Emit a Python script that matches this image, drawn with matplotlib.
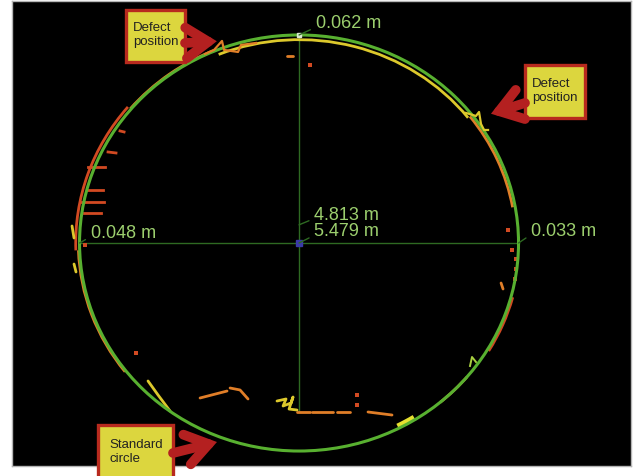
import matplotlib
matplotlib.use("Agg")
import matplotlib.pyplot as plt
from matplotlib.patches import Arc, Circle, Rectangle, FancyArrowPatch
import numpy as np

plt.rcParams['font.family'] = ['Liberation Sans', 'DejaVu Sans']

# fitted section centre and design radius (m)
CENTER_X = 4.813
CENTER_Y = 5.479
R_STD = 2.75

# max deviations (m)
DEV_TOP = 0.062
DEV_LEFT = 0.048
DEV_RIGHT = 0.033

# scanned profile, continuous arcs: start/end angle (deg) and radius (m)
ARC_START = [38, 112, 140, 182, 10, -31, -50, -63]
ARC_END = [112, 140, 182, 218, 38, -15, -40, -58]
ARC_R = [R_STD - DEV_TOP, R_STD + 0.01, R_STD + DEV_LEFT, R_STD + 0.015,
         R_STD - DEV_RIGHT, R_STD + 0.02, R_STD, R_STD - 0.03]

# scattered scan pieces, offsets from centre (m)
left_streaks = [
    [(-2.643, 1.005), (-2.430, 1.005)],
    [(-2.643, 0.701), (-2.455, 0.701)],
    [(-2.744, 0.542), (-2.443, 0.542)],
    [(-2.694, 0.397), (-2.481, 0.397)],
    [(-2.393, 1.203), (-2.293, 1.190)],
    [(-2.243, 1.481), (-2.192, 1.468)],
]
bottom_pieces = [
    [(-1.240, -2.049), (-0.902, -1.957)],
    [(-0.864, -1.917), (-0.739, -1.943), (-0.639, -2.062)],
    [(-0.025, -2.234), (0.138, -2.234)],
    [(0.163, -2.234), (0.426, -2.234)],
    [(0.476, -2.234), (0.639, -2.234)],
    [(0.864, -2.234), (1.165, -2.274)],
    [(-0.150, 2.472), (-0.075, 2.472)],
    [(2.531, -0.529), (2.556, -0.608)],
]
yellow_pieces = [
    [(-2.844, 0.225), (-2.819, 0.066)],
    [(-2.819, -0.278), (-2.794, -0.383)],
    [(-1.892, -1.824), (-1.766, -2.010), (-1.616, -2.221)],
    [(-0.276, -2.089), (-0.163, -2.062), (-0.200, -2.155), (-0.100, -2.115),
     (-0.075, -2.036), (-0.125, -2.195), (-0.025, -2.208)],
]
defect_a = [(-1.178, 2.499), (-1.065, 2.552), (-0.965, 2.671), (-0.940, 2.552),
            (-0.764, 2.525), (-0.727, 2.618), (-0.539, 2.644)]
defect_b = [(2.092, 1.719), (2.217, 1.679), (2.255, 1.732), (2.280, 1.573),
            (2.318, 1.494), (2.368, 1.494)]
notch_c = [(2.142, -1.626), (2.167, -1.507), (2.217, -1.573)]
dots = [(-2.681, -0.026), (-2.042, -1.454), (0.727, -2.010), (0.727, -2.142),
        (0.138, 2.353), (2.618, 0.172), (2.668, -0.093), (2.719, -0.212),
        (2.719, -0.344), (2.706, -0.476)]
VLINE_BOTTOM = -2.234

YELLOW = '#dcc82c'
ORANGE = '#e07e28'
RED = '#d24a22'
GREEN = '#58b030'
DARK_GREEN = '#2e6a22'
LABEL = '#9ccf6e'
arc_colors = [YELLOW, ORANGE, RED, ORANGE, ORANGE, RED, ORANGE, '#e6e030']
arc_widths = [2.0, 2.0, 2.0, 2.0, 2.0, 2.2, 2.0, 4.0]

fig = plt.figure(figsize=(6.38, 4.76), dpi=100)
ax = fig.add_axes([12 / 638, 10 / 476, 619 / 638, 465 / 476])
ax.set_facecolor('black')
ax.set_xlim(1.217, 8.972)
ax.set_ylim(2.531, 8.678)
ax.set_xticks([])
ax.set_yticks([])
for s in ax.spines.values():
    s.set_color('#b4b4b4')
    s.set_linewidth(1)

def shift(pts):
    a = np.array(pts)
    return a[:, 0] + CENTER_X, a[:, 1] + CENTER_Y

# crosshair through the centre
ax.plot([CENTER_X - R_STD, CENTER_X + R_STD], [CENTER_Y, CENTER_Y],
        color=DARK_GREEN, lw=1, zorder=1)
ax.plot([CENTER_X, CENTER_X], [CENTER_Y + VLINE_BOTTOM, CENTER_Y + R_STD],
        color=DARK_GREEN, lw=1, zorder=1)

# scan profile
for t1, t2, r, c, w in zip(ARC_START, ARC_END, ARC_R, arc_colors, arc_widths):
    ax.add_patch(Arc((CENTER_X, CENTER_Y), 2 * r, 2 * r, theta1=t1, theta2=t2,
                     color=c, lw=w, zorder=2))
for seg in left_streaks:
    ax.plot(*shift(seg), color=RED, lw=2, zorder=2)
for seg in bottom_pieces:
    ax.plot(*shift(seg), color=ORANGE, lw=2, zorder=2, solid_capstyle='round')
for seg in yellow_pieces:
    ax.plot(*shift(seg), color=YELLOW, lw=2, zorder=2, solid_capstyle='round')
ax.plot(*shift(defect_a), color=ORANGE, lw=1.6, zorder=4)
ax.plot(*shift(defect_b), color=YELLOW, lw=1.6, zorder=4)
ax.plot(*shift(notch_c), color='#a8d040', lw=1.4, zorder=4)
dx, dy = shift(dots)
ax.scatter(dx, dy, s=5, marker='s', color=RED, lw=0, zorder=2)

# standard (design) circle
ax.add_patch(Circle((CENTER_X, CENTER_Y), R_STD, fill=False, ec=GREEN, lw=2.2, zorder=3))
ax.plot(CENTER_X, CENTER_Y, 's', color='#3a3aa8', ms=5, zorder=5)
ax.plot(CENTER_X, CENTER_Y + R_STD, 's', color='#d8ead0', ms=3, zorder=5)

def label(xy, txt, off):
    ax.annotate(txt, xy=xy, xytext=off, textcoords='offset points',
                ha='left', va='center', fontsize=13, color=LABEL, zorder=6,
                arrowprops=dict(arrowstyle='-', color=DARK_GREEN, lw=1,
                                relpos=(0, 0.3), shrinkA=2, shrinkB=0))

label((CENTER_X, CENTER_Y + R_STD), f'{DEV_TOP:.3f} m', (12, 8))
label((CENTER_X - R_STD, CENTER_Y), f'{DEV_LEFT:.3f} m', (8, 7))
label((CENTER_X + R_STD, CENTER_Y), f'{DEV_RIGHT:.3f} m', (9, 8.5))
label((CENTER_X, CENTER_Y), f'{CENTER_Y:.3f} m', (11, 8))
label((CENTER_X, CENTER_Y + 0.24), f'{CENTER_X:.3f} m', (11, 7))

# callout boxes on top, in pixel coordinates
ov = fig.add_axes([0, 0, 1, 1], zorder=10)
ov.set_xlim(0, 638)
ov.set_ylim(476, 0)
ov.axis('off')
ov.patch.set_visible(False)

BOX_FILL = '#dcd63e'
BOX_EDGE = '#b82a1e'
boxes = [((126, 10, 59, 52), 'Defect\nposition', (133, 35), (185, 43), (221, 41)),
         ((525, 65, 60, 53), 'Defect\nposition', (532, 91), (525, 103), (487, 115)),
         ((98, 425, 75, 60), 'Standard\ncircle', (109, 452), (173, 453), (221, 441))]
for (x, y, w, h), txt, tpos, tail, tip in boxes:
    ov.add_patch(Rectangle((x, y), w, h, fc=BOX_FILL, ec=BOX_EDGE, lw=2.4,
                           clip_on=False))
    ov.text(*tpos, txt, fontsize=9.5, color='#222222',
            ha='left', va='center', linespacing=1.2, clip_on=False)
    ov.add_patch(FancyArrowPatch(tail, tip,
                                 arrowstyle='->,head_length=0.8,head_width=0.55',
                                 mutation_scale=20, lw=7, color='#b42020',
                                 shrinkA=0, shrinkB=3, joinstyle='miter',
                                 capstyle='round'))

fig.savefig('out.png', dpi=100, facecolor='white')
